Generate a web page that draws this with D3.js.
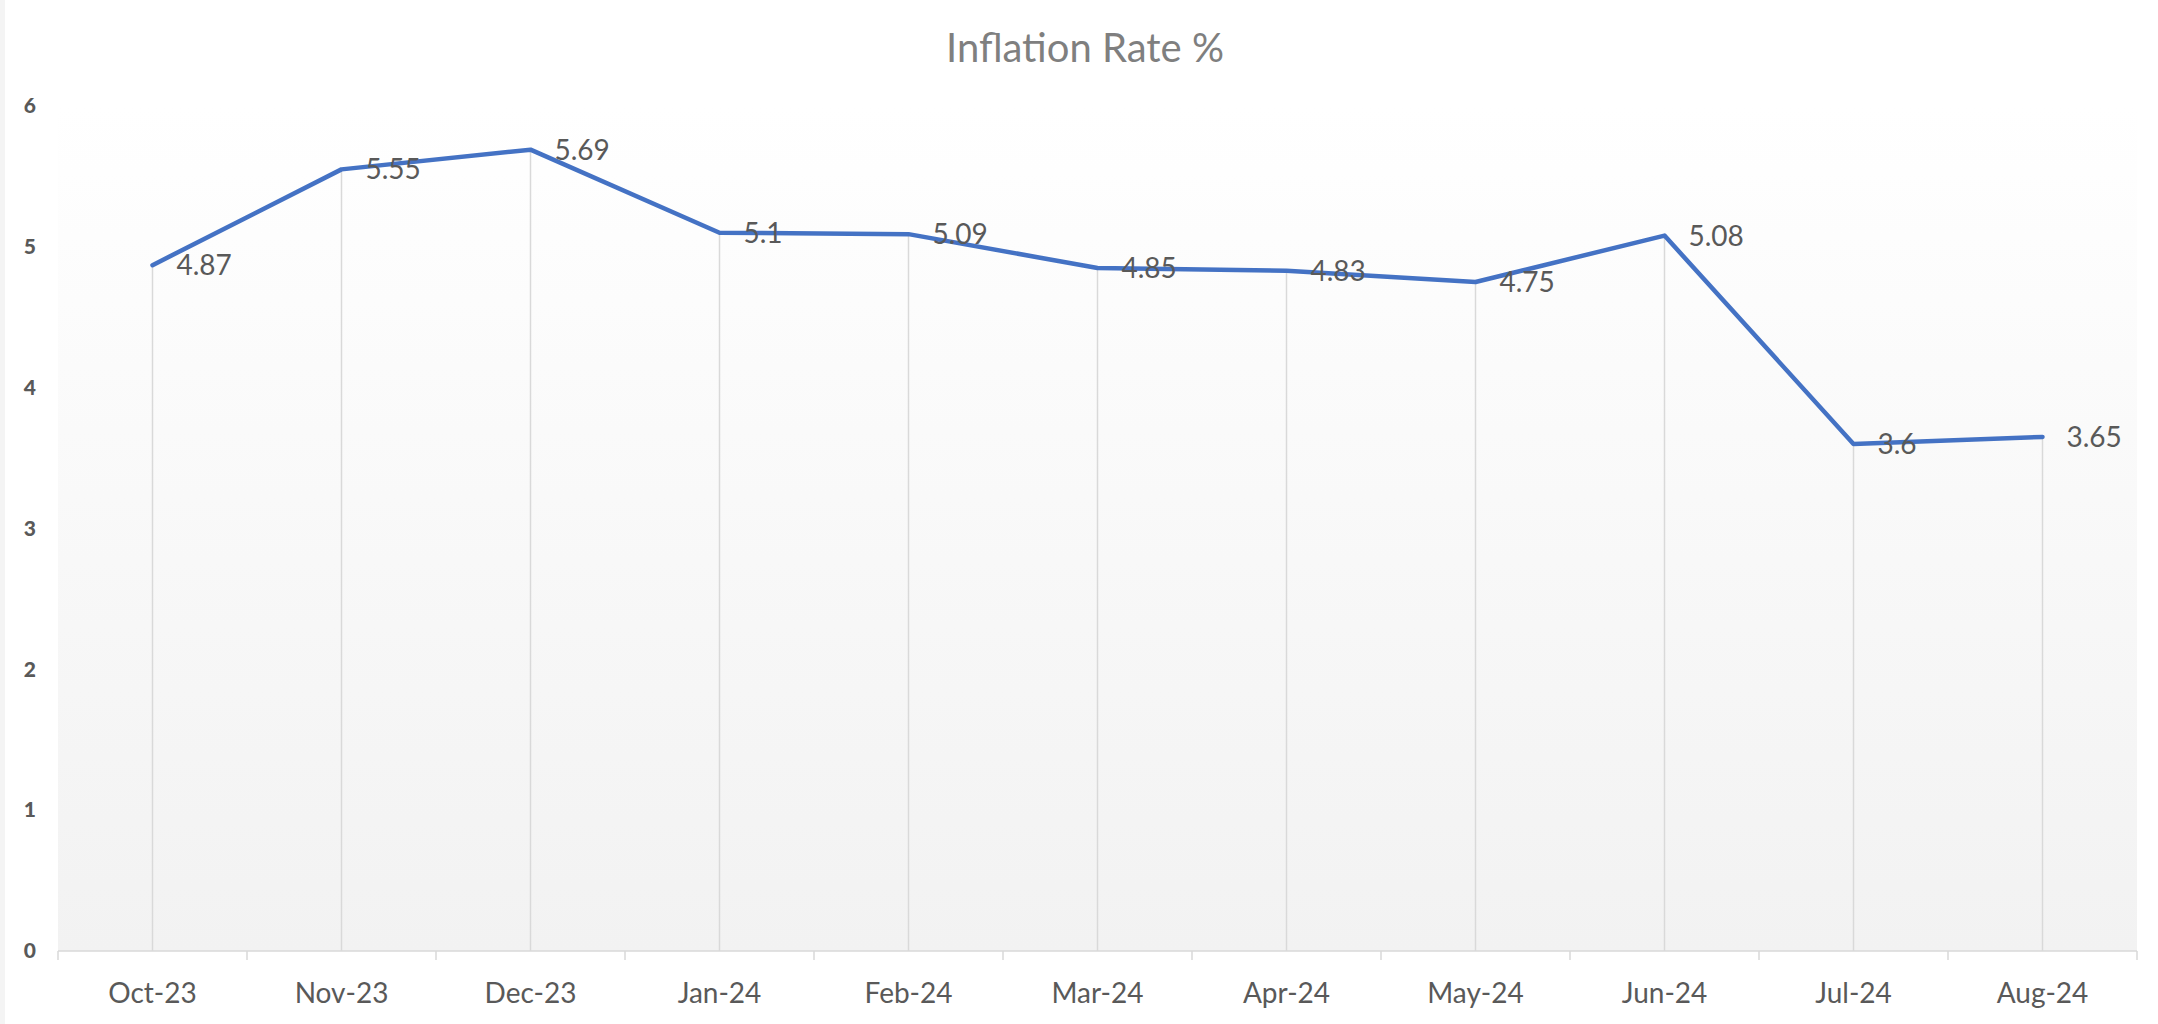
<!DOCTYPE html>
<html>
<head>
<meta charset="utf-8">
<script src="https://cdn.jsdelivr.net/npm/d3@7"></script>
<style>
  body { margin: 0; background: #fff; }
  svg { display: block; }
</style>
</head>
<body>
<svg id="chart"></svg>
<script>
// chart data
const months = ["Oct-23", "Nov-23", "Dec-23", "Jan-24", "Feb-24", "Mar-24", "Apr-24", "May-24", "Jun-24", "Jul-24", "Aug-24"];
const inflation = [4.87, 5.55, 5.69, 5.1, 5.09, 4.85, 4.83, 4.75, 5.08, 3.6, 3.65];
const yTicks = [0, 1, 2, 3, 4, 5, 6];
const title = "Inflation Rate %";

const W = 2158, H = 1024;
const margin = { top: 106, right: 21, bottom: 73, left: 58 };
const width = W - margin.left - margin.right,
    height = H - margin.top - margin.bottom;

const svg = d3.select("#chart")
    .attr("width", W)
    .attr("height", H)
    .style("font-family", "Lato, 'Open Sans', sans-serif");

// faint strip on the very left edge
svg.append("rect")
    .attr("x", 0).attr("y", 0)
    .attr("width", 5).attr("height", H)
    .attr("fill", "#f4f4f4");

// plot area gradient
const defs = svg.append("defs");
const grad = defs.append("linearGradient")
    .attr("id", "plotBg")
    .attr("x1", 0).attr("y1", 0).attr("x2", 0).attr("y2", 1);
grad.append("stop").attr("offset", "0%").attr("stop-color", "#ffffff");
grad.append("stop").attr("offset", "100%").attr("stop-color", "#f2f2f2");

const g = svg.append("g")
    .attr("transform", `translate(${margin.left},${margin.top})`);

g.append("rect")
    .attr("width", width)
    .attr("height", height)
    .attr("fill", "url(#plotBg)");

const x = d3.scaleBand()
    .domain(months)
    .range([0, width])
    .padding(0);

const y = d3.scaleLinear()
    .domain([0, 6])
    .range([height, 0]);

const cx = d => x(d) + x.bandwidth() / 2;

// title
svg.append("text")
    .attr("x", W / 2 + 6)
    .attr("y", 62)
    .attr("text-anchor", "middle")
    .style("font-size", "40px")
    .style("fill", "#7f7f7f")
    .text(title);

// y axis labels
const yAxis = g.append("g")
    .call(d3.axisLeft(y).tickValues(yTicks).tickSize(0).tickPadding(0).tickFormat(d3.format("d")));
yAxis.select(".domain").remove();
yAxis.selectAll("text")
    .attr("x", -22)
    .style("font-family", "Lato, 'Open Sans', sans-serif")
    .style("font-size", "21px")
    .style("font-weight", "900")
    .style("fill", "#595959");

// drop lines from each point to the axis
g.selectAll(".drop")
    .data(months)
    .enter().append("line")
    .attr("class", "drop")
    .attr("x1", d => cx(d))
    .attr("x2", d => cx(d))
    .attr("y1", (d, i) => y(inflation[i]))
    .attr("y2", height)
    .attr("stroke", "#d9d9d9")
    .attr("stroke-width", 1.5);

// x axis: labels at centers, ticks at category boundaries
const xAxis = g.append("g")
    .attr("transform", `translate(0,${height})`)
    .call(d3.axisBottom(x).tickSize(0).tickPadding(0));
xAxis.select(".domain").remove();
xAxis.selectAll("text")
    .attr("y", 52)
    .attr("dy", 0)
    .style("font-family", "Lato, 'Open Sans', sans-serif")
    .style("font-size", "28px")
    .style("fill", "#595959");

g.append("line")
    .attr("x1", 0).attr("x2", width)
    .attr("y1", height).attr("y2", height)
    .attr("stroke", "#d9d9d9")
    .attr("stroke-width", 1.5);

const bounds = months.map(d => x(d)).concat([width]);
g.selectAll(".xtick")
    .data(bounds)
    .enter().append("line")
    .attr("class", "xtick")
    .attr("x1", d => d).attr("x2", d => d)
    .attr("y1", height).attr("y2", height + 9)
    .attr("stroke", "#d9d9d9")
    .attr("stroke-width", 1.5);

// series line
const line = d3.line()
    .x((d, i) => cx(months[i]))
    .y(d => y(d));

g.append("path")
    .datum(inflation)
    .attr("d", line)
    .attr("fill", "none")
    .attr("stroke", "#4472c4")
    .attr("stroke-width", 4.5)
    .attr("stroke-linejoin", "round")
    .attr("stroke-linecap", "round");

// data labels, right of each point
g.selectAll(".dlabel")
    .data(inflation)
    .enter().append("text")
    .attr("class", "dlabel")
    .attr("x", (d, i) => cx(months[i]) + 24)
    .attr("y", d => y(d))
    .attr("dy", "0.36em")
    .style("font-size", "28px")
    .style("fill", "#595959")
    .text(d => d);
</script>
</body>
</html>
